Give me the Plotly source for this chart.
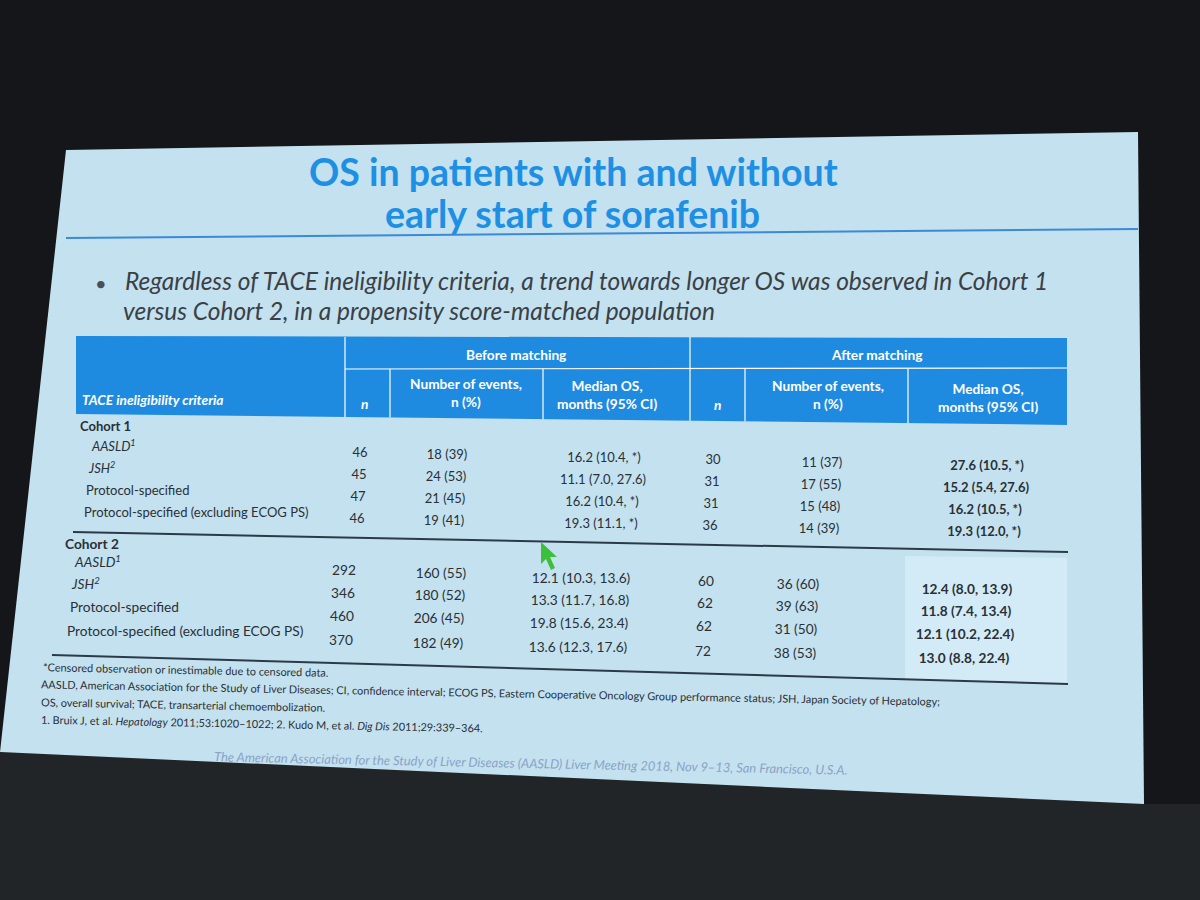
import plotly.graph_objects as go

# ---- table data -------------------------------------------------------
criteria = ["AASLD", "JSH", "Protocol-specified", "Protocol-specified (excluding ECOG PS)"]
criteria_ref = ["1", "2", "", ""]
cohorts = ["Cohort 1", "Cohort 2"]

c1_before_n = [46, 45, 47, 46]
c1_before_events = [18, 24, 21, 19]
c1_before_pct = [39, 53, 45, 41]
c1_before_os = [16.2, 11.1, 16.2, 19.3]
c1_before_lo = [10.4, 7.0, 10.4, 11.1]
c1_before_hi = [None, 27.6, None, None]
c1_after_n = [30, 31, 31, 36]
c1_after_events = [11, 17, 15, 14]
c1_after_pct = [37, 55, 48, 39]
c1_after_os = [27.6, 15.2, 16.2, 19.3]
c1_after_lo = [10.5, 5.4, 10.5, 12.0]
c1_after_hi = [None, 27.6, None, None]

c2_before_n = [292, 346, 460, 370]
c2_before_events = [160, 180, 206, 182]
c2_before_pct = [55, 52, 45, 49]
c2_before_os = [12.1, 13.3, 19.8, 13.6]
c2_before_lo = [10.3, 11.7, 15.6, 12.3]
c2_before_hi = [13.6, 16.8, 23.4, 17.6]
c2_after_n = [60, 62, 62, 72]
c2_after_events = [36, 39, 31, 38]
c2_after_pct = [60, 63, 50, 53]
c2_after_os = [12.4, 11.8, 12.1, 13.0]
c2_after_lo = [8.0, 7.4, 10.2, 8.8]
c2_after_hi = [13.9, 13.4, 22.4, 22.4]

group_headers = ["Before matching", "After matching"]
col_headers = ["n", "Number of events,<br>n (%)", "Median OS,<br>months (95% CI)"]
first_header = "TACE ineligibility criteria"

title_lines = ["OS in patients with and without", "early start of sorafenib"]
bullet_lines = [
    "Regardless of TACE ineligibility criteria, a trend towards longer OS was observed in Cohort 1",
    "versus Cohort 2, in a propensity score-matched population",
]
footnotes = [
    "*Censored observation or inestimable due to censored data.",
    "AASLD, American Association for the Study of Liver Diseases; CI, confidence interval; ECOG PS, "
    "Eastern Cooperative Oncology Group performance status; JSH, Japan Society of Hepatology;",
    "OS, overall survival; TACE, transarterial chemoembolization.",
    "1. Bruix J, et al. <i>Hepatology</i> 2011;53:1020\u20131022; 2. Kudo M, et al. <i>Dig Dis</i> 2011;29:339\u2013364.",
]
meeting = ("The American Association for the Study of Liver Diseases (AASLD) Liver Meeting 2018, "
           "Nov 9\u201313, San Francisco, U.S.A.")

FONT = "Lato"
TEXT = "#2b3036"
BLUE = "#1f8be0"


def ev(e, p):
    return [f"{a} ({b})" for a, b in zip(e, p)]


def os_ci(m, lo, hi):
    return [f"{a:.1f} ({b:.1f}, {'*' if c is None else f'{c:.1f}'})" for a, b, c in zip(m, lo, hi)]


blocks = [
    dict(cols=[c1_before_n, ev(c1_before_events, c1_before_pct), os_ci(c1_before_os, c1_before_lo, c1_before_hi),
               c1_after_n, ev(c1_after_events, c1_after_pct), os_ci(c1_after_os, c1_after_lo, c1_after_hi)],
         head=(80, 428), rows_y=[448, 470, 492, 514], label_x=[92, 89, 86, 84],
         slope=0.021, col_x=[360, 447, 604, 713, 822, 987], size=13),
    dict(cols=[c2_before_n, ev(c2_before_events, c2_before_pct), os_ci(c2_before_os, c2_before_lo, c2_before_hi),
               c2_after_n, ev(c2_after_events, c2_after_pct), os_ci(c2_after_os, c2_after_lo, c2_after_hi)],
         head=(65, 546), rows_y=[564, 586, 609, 633], label_x=[75, 72, 70, 67],
         slope=0.03, col_x=[344, 441, 581, 706, 798, 967], size=13.7),
]

fig = go.Figure()


def hb(x):
    # bottom edge of the header band (slightly slanted in the photo)
    return 414 + 0.011 * (x - 76)


shapes = [
    dict(type="path", path="M0,752 L1144,804 L1200,804 L1200,900 L0,900 Z",
         fillcolor="#222528", line=dict(width=0), layer="below"),
    dict(type="path", path="M66,150 L1138,132 L1144,804 L0,752 Z",
         fillcolor="#c3e1ef", line=dict(width=0), layer="below"),
    dict(type="line", x0=66, y0=238, x1=1138, y1=229, line=dict(color="#3a8ad6", width=2)),
    dict(type="path", path=f"M76,336 L1067,338 L1067,{hb(1067):.1f} L76,{hb(76):.1f} Z",
         fillcolor=BLUE, line=dict(width=0)),
    dict(type="path", path="M905,556 L1067,558 L1067,683 L905,679 Z", fillcolor="#d3ebf7",
         line=dict(width=0), layer="below"),
    dict(type="line", x0=73, y0=532, x1=1068, y1=552, line=dict(color="#2c3a47", width=2)),
    dict(type="line", x0=52, y0=655, x1=1068, y1=684, line=dict(color="#2c3a47", width=2)),
    dict(type="path", path="M541,542 L541,564 L546,559 L551,570 L555,568 L550,557 L557,557 Z",
         fillcolor="#3cc03c", line=dict(width=0)),
]
for x in (345, 690):
    shapes.append(dict(type="line", x0=x, y0=337, x1=x, y1=hb(x), line=dict(color="white", width=1.2)))
shapes.append(dict(type="line", x0=345, y0=369, x1=1067, y1=368, line=dict(color="white", width=1.2)))
for x in (390, 543, 745, 908):
    shapes.append(dict(type="line", x0=x, y0=369, x1=x, y1=hb(x), line=dict(color="white", width=1.2)))

# table body through scatter text traces
for b, cohort in zip(blocks, cohorts):
    n = len(criteria)
    labels = [(f"<i>{c}<sup>{r}</sup></i>" if r else c) for c, r in zip(criteria, criteria_ref)]
    fig.add_trace(go.Scatter(
        x=b["label_x"], y=b["rows_y"], text=labels, mode="text", textposition="middle right",
        textfont=dict(family=FONT, size=b["size"], color=TEXT), hoverinfo="skip", cliponaxis=False))
    fig.add_trace(go.Scatter(
        x=[b["head"][0]], y=[b["head"][1]], text=[f"<b>{cohort}</b>"], mode="text",
        textposition="middle right", textfont=dict(family=FONT, size=b["size"], color=TEXT),
        hoverinfo="skip", cliponaxis=False))
    for j, (vals, cx) in enumerate(zip(b["cols"], b["col_x"])):
        xs = [cx - i for i in range(n)]
        ys = [b["rows_y"][i] + b["slope"] * (xs[i] - b["label_x"][i]) for i in range(n)]
        txt = [str(v) for v in vals]
        if j == 5:
            txt = [f"<b>{t}</b>" for t in txt]
        fig.add_trace(go.Scatter(
            x=xs, y=ys, text=txt, mode="text", textposition="middle center",
            textfont=dict(family=FONT, size=b["size"], color=TEXT), hoverinfo="skip", cliponaxis=False))

ann = []
# title and bullet
tf = dict(family=FONT, size=37.5, color="#1e90e4")
ann.append(dict(x=573, y=171, text=f"<b>{title_lines[0]}</b>", font=tf))
ann.append(dict(x=572, y=213, text=f"<b>{title_lines[1]}</b>", font=tf))
ann.append(dict(x=101, y=283, text="\u2022", font=dict(family=FONT, size=20, color="#4a4f55")))
for (x, y), line in zip([(123, 280), (121, 310)], bullet_lines):
    ann.append(dict(x=x, y=y, text=f"<i>{line}</i>", xanchor="left",
                    font=dict(family=FONT, size=24.5, color="#3b4046")))

# header cells
hf = dict(family=FONT, size=13.7, color="white")
ann.append(dict(x=516, y=354, text=f"<b>{group_headers[0]}</b>", font=hf))
ann.append(dict(x=876, y=354, text=f"<b>{group_headers[1]}</b>", font=hf))
ann.append(dict(x=80, y=399, text=f"<b><i>{first_header}</i></b>", xanchor="left", font=hf))
for (x, y), h in zip([(364, 403), (466, 392), (607, 394), (717, 404), (828, 394), (988, 397)],
                     col_headers + col_headers):
    t = f"<b><i>{h}</i></b>" if h == "n" else f"<b>{h}</b>"
    ann.append(dict(x=x, y=y, text=t, font=hf))

# footnotes
for (x, y), line in zip([(41, 669), (39, 692), (39, 704), (39, 723)], footnotes):
    ann.append(dict(x=x, y=y, text=line, xanchor="left", textangle=1.1,
                    font=dict(family=FONT, size=10.9, color="#2a2f35")))
ann.append(dict(x=531, y=763, text=f"<i>{meeting}</i>", textangle=1.2,
                font=dict(family=FONT, size=12.9, color="#8aa3c6")))

for a in ann:
    a.update(xref="x", yref="y", showarrow=False)
    a.setdefault("xanchor", "center")
    a.setdefault("yanchor", "middle")

fig.update_layout(
    width=1200, height=900, margin=dict(l=0, r=0, t=0, b=0),
    paper_bgcolor="#141619", plot_bgcolor="#141619",
    xaxis=dict(range=[0, 1200], visible=False, fixedrange=True),
    yaxis=dict(range=[900, 0], visible=False, fixedrange=True),
    showlegend=False, shapes=shapes, annotations=ann,
)

fig.write_html("out.html", config={"displayModeBar": False},
               post_script="document.body.style.margin='0px';")
